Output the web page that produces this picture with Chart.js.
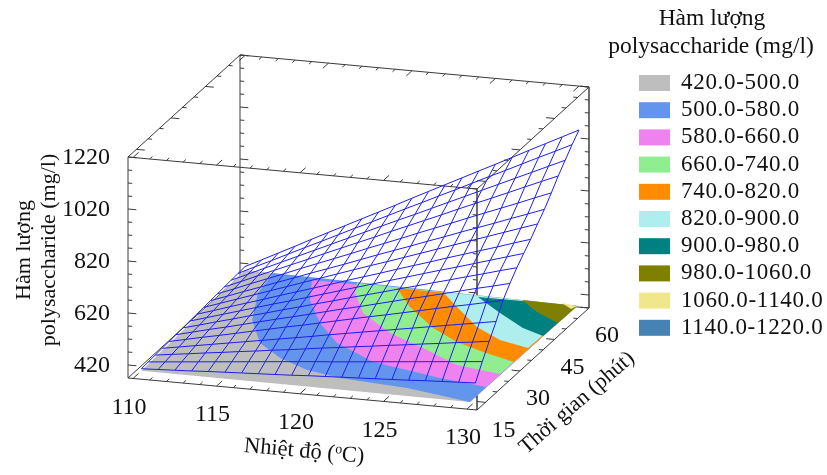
<!DOCTYPE html>
<html>
<head>
<meta charset="utf-8">
<style>
	html,body{margin:0;padding:0;background:#fff;}
	canvas{display:block;}
</style>
<script src="https://cdn.jsdelivr.net/npm/chart.js@4/dist/chart.umd.min.js"></script>
</head>
<body>
<canvas id="grafico" width="827" height="475"></canvas>
<script>
// assi del grafico
const tempLimits = [109.7, 130.6];
const timeLimits = [11.35, 60];
const zLimits = [370, 1220];

const tempTicks = [110,111,112,113,114,115,116,117,118,119,120,121,122,123,124,125,126,127,128,129,130];
const tempLabels = [110,115,120,125,130];
const timeTicks = [15,20,25,30,35,40,45,50,55,60];
const timeLabels = [15,30,45,60];
const zTicks = [420,470,520,570,620,670,720,770,820,870,920,970,1020,1070,1120,1170,1220];
const zLabels = [420,620,820,1020,1220];

// griglia della superficie: una riga per ogni tempo, una colonna per ogni temperatura
const gridTemp = [110,111,112,113,114,115,116,117,118,119,120,121,122,123,124,125,126,127,128,129,130];
const gridTime = [15,18,21,24,27,30,33,36,39,42,45,48,51,54,57,60];
const surface = [
	[378,381,384,387,391,394,397,400,403,406,410,413,416,419,422,425,428,432,435,438,441],
	[380,386,392,398,404,410,416,422,428,434,440,445,451,457,463,469,475,481,487,493,499],
	[382,391,399,408,416,425,433,442,450,459,468,476,485,493,502,510,519,527,536,544,553],
	[384,395,406,417,428,439,450,461,472,483,495,506,517,528,539,550,561,572,583,594,605],
	[386,400,414,427,441,455,469,483,496,510,524,538,552,565,579,593,607,621,634,648,662],
	[388,404,420,435,451,467,483,498,514,530,546,561,577,593,609,624,640,656,672,687,703],
	[390,407,425,442,460,477,495,512,530,547,565,582,599,617,634,652,669,687,704,722,739],
	[392,411,430,449,468,487,505,524,543,562,581,600,619,638,657,676,694,713,732,751,770],
	[394,414,435,455,475,496,516,536,556,577,597,617,638,658,678,699,719,739,759,780,800],
	[396,418,440,462,484,506,528,550,572,594,616,637,659,681,703,725,747,769,791,813,835],
	[398,421,445,468,492,515,539,562,585,609,633,656,679,703,726,750,773,796,820,843,867],
	[400,425,451,476,501,527,552,577,602,628,653,678,704,729,754,780,805,830,855,881,906],
	[402,429,457,484,511,538,566,593,620,647,675,702,729,756,784,811,838,865,893,920,947],
	[404,433,462,491,520,549,578,607,636,665,694,722,751,780,809,838,867,896,925,954,983],
	[406,437,467,498,529,559,590,621,651,682,713,743,774,804,835,866,896,927,958,988,1019],
	[408,440,472,504,537,569,601,633,665,697,730,762,794,826,858,890,922,955,987,1019,1051]
];

// bande di contorno sul fondo (temperatura, tempo)
const bandNames = ["420.0-500.0","500.0-580.0","580.0-660.0","660.0-740.0","740.0-820.0","820.0-900.0","900.0-980.0","980.0-1060.0","1060.0-1140.0","1140.0-1220.0"];
const bandColors = ["#bebebe","#6495ed","#ee82ee","#90ee90","#ff8c00","#afeeee","#008080","#808000","#f0e68c","#4682b4"];

const floorT = [110,129.74,129.83,126.48,123.9,121.7,118.96,116.48,113.86,111.32,109.62];
const floorM = [15,14.54,60.39,60.8,60.35,61.1,61.04,61.6,61.1,62.6,62.8];
const c500T = [111.32,111.69,112.99,114.79,116.78,118.96,121.23,125.48,129.74,129.83];
const c500M = [62.6,53.34,41.41,31.76,26.06,21.93,19.77,18.1,14.54,60.39];
const c580T = [113.86,114.94,116.86,118.98,120.95,122.07,124.4,126.68,129.72,129.83];
const c580M = [61.1,52.38,42.81,34.82,30.54,28.01,25.9,23.75,21.67,60.39];
const c660T = [116.48,116.97,118.61,121.27,123.96,126.82,129.7,129.83];
const c660M = [61.6,57.2,48.85,41.26,36.07,30.05,27.86,60.39];
const c740T = [118.96,120.8,123.31,125.45,127.47,129.74,129.83];
const c740M = [61.04,53.31,45.14,40.02,36.72,33.62,60.39];
const c820T = [121.7,123.36,125.64,127.67,129.67,129.83];
const c820M = [61.1,55.18,47.32,42.6,40.24,60.39];
const c900T = [123.9,126.06,128.2,129.77,129.83];
const c900M = [60.35,54.29,48.71,46.04,60.39];
const c980T = [126.48,128.01,129.81,129.83];
const c980M = [60.8,56.2,52.26,60.39];
const c1060T = [128.83,129.68,129.83];
const c1060M = [61.09,58.85,60.39];

const regions = [
	[floorT,floorM],[c500T,c500M],[c580T,c580M],[c660T,c660M],[c740T,c740M],
	[c820T,c820M],[c900T,c900M],[c980T,c980M],[c1060T,c1060M]
];

// proiezione obliqua della scatola sul piano della figura
const ORIG = [128,378];
const DIR_T = [349,32];
const DIR_M = [112,-102];
const DIR_Z = [0,-221];

function norm(v,lim){ return (v-lim[0])/(lim[1]-lim[0]); }

function proietta3(u,v,w){
	return {
		x: ORIG[0]+DIR_T[0]*u+DIR_M[0]*v+DIR_Z[0]*w,
		y: ORIG[1]+DIR_T[1]*u+DIR_M[1]*v+DIR_Z[1]*w
	};
}
function proietta(T,m,z){
	return proietta3(norm(T,tempLimits),norm(m,timeLimits),norm(z,zLimits));
}

function linea(points,color,width,order){
	return {
		data: points, showLine: true, borderColor: color, borderWidth: width,
		pointRadius: 0, fill: false, tension: 0, order: order, clip: false
	};
}

function creaDatasets(){
	const ds = [];
	// maglia della superficie
	surface.forEach((row,j)=>{
		ds.push(linea(row.map((z,i)=>proietta(gridTemp[i],gridTime[j],z)),"#1e1ef0",1,0));
	});
	gridTemp.forEach((T,i)=>{
		ds.push(linea(surface.map((row,j)=>proietta(T,gridTime[j],row[i])),"#1e1ef0",1,0));
	});
	// contorni
	regions.forEach((r,k)=>{
		ds.push({
			data: r[0].map((T,i)=>proietta(T,r[1][i],zLimits[0])),
			showLine: true, borderWidth: 0, borderColor: bandColors[k], backgroundColor: bandColors[k],
			pointRadius: 0, fill: "shape", tension: 0, order: 20-k, clip: false
		});
	});
	// scatola
	const edges = [
		[[0,0,0],[1,0,0]],[[1,0,0],[1,1,0]],[[0,0,0],[0,1,0]],[[0,1,0],[1,1,0]],
		[[0,0,1],[1,0,1]],[[1,0,1],[1,1,1]],[[0,0,1],[0,1,1]],[[0,1,1],[1,1,1]],
		[[0,0,0],[0,0,1]],[[0,1,0],[0,1,1]]
	];
	edges.forEach(e=>ds.push(linea(e.map(p=>proietta3(p[0],p[1],p[2])),"#3a3a3a",1,30)));
	ds.push(linea([proietta3(1,0,0),proietta3(1,0,1)],"#6e6e6e",2,30));
	ds.push(linea([proietta3(1,1,0),proietta3(1,1,1)],"#6e6e6e",2,30));
	// tacche
	const tacche = [];
	function tacca(u,v,w,du,dv){
		tacche.push(proietta3(u,v,w),proietta3(u+du,v+dv,w),{x:NaN,y:NaN});
	}
	tempTicks.forEach(T=>{
		const u = norm(T,tempLimits), k = tempLabels.includes(T) ? 2 : 1;
		tacca(u,0,0,0,0.025*k);
		tacca(u,0,1,0,0.025*k);
		tacca(u,1,1,0,-0.025*k);
	});
	timeTicks.forEach(m=>{
		const v = norm(m,timeLimits), k = timeLabels.includes(m) ? 2 : 1;
		tacca(1,v,0,-0.012*k,0);
		tacca(0,v,1,0.012*k,0);
		tacca(1,v,1,-0.012*k,0);
	});
	zTicks.forEach(z=>{
		const w = norm(z,zLimits), k = zLabels.includes(z) ? 2 : 1;
		tacca(0,0,w,0.012*k,0);
		tacca(0,1,w,0.012*k,0);
		tacca(1,0,w,-0.012*k,0);
		tacca(1,1,w,-0.012*k,0);
	});
	ds.push(linea(tacche,"#3a3a3a",1,29));
	return ds;
}

const FONT = '"Liberation Serif"';

const testi = {
	id: "testi",
	afterDraw(chart){
		const ctx = chart.ctx, sx = chart.scales.x, sy = chart.scales.y;
		const px = p=>({x:sx.getPixelForValue(p.x),y:sy.getPixelForValue(p.y)});
		ctx.save();
		ctx.fillStyle = "#111";
		ctx.textBaseline = "middle";

		// etichette degli assi
		ctx.font = "24px "+FONT;
		ctx.textAlign = "center";
		tempLabels.forEach(T=>{
			const p = px(proietta(T,timeLimits[0],zLimits[0]));
			ctx.fillText(String(T),p.x-4,p.y+29);
		});
		timeLabels.forEach(m=>{
			const p = px(proietta(tempLimits[1],m,zLimits[0]));
			ctx.fillText(String(m),p.x+18,p.y+28);
		});
		ctx.textAlign = "right";
		zLabels.forEach(z=>{
			const p = px(proietta(tempLimits[0],timeLimits[0],z));
			ctx.fillText(String(z),p.x-18,p.y+1);
		});

		// titoli degli assi
		ctx.font = "22px "+FONT;
		ctx.textAlign = "center";
		ruotato(ctx,"Hàm lượng",24,250,-Math.PI/2);
		ruotato(ctx,"polysaccharide (mg/l)",49,250,-Math.PI/2);
		ruotato(ctx,"Thời gian (phút)",577,403,-41*Math.PI/180);

		ctx.save();
		ctx.font = "22.5px "+FONT;
		ctx.translate(244,446);
		ctx.rotate(5.2*Math.PI/180);
		ctx.textAlign = "left";
		const a = "Nhiệt độ (", b = "o", c = "C)";
		ctx.fillText(a,0,0);
		let w = ctx.measureText(a).width;
		ctx.font = "14px "+FONT;
		ctx.fillText(b,w,-5);
		w += ctx.measureText(b).width;
		ctx.font = "22.5px "+FONT;
		ctx.fillText(c,w,0);
		ctx.restore();

		// legenda
		ctx.font = "23.5px "+FONT;
		ctx.textAlign = "center";
		ctx.fillText("Hàm lượng",712,19);
		ctx.fillText("polysaccharide (mg/l)",711,47);
		ctx.textAlign = "left";
		ctx.font = "23px "+FONT;
		ctx.letterSpacing = "0.7px";
		bandNames.forEach((n,i)=>{
			const y = 83+27.2*i;
			ctx.fillStyle = bandColors[i];
			ctx.fillRect(639,y-8,31,16);
			ctx.fillStyle = "#111";
			ctx.fillText(n,681,y);
		});
		ctx.letterSpacing = "0px";
		ctx.restore();
	}
};

function ruotato(ctx,testo,x,y,ang){
	ctx.save();
	ctx.translate(x,y);
	ctx.rotate(ang);
	ctx.fillText(testo,0,0);
	ctx.restore();
}

new Chart(document.getElementById("grafico"),{
	type: "scatter",
	data: { datasets: creaDatasets() },
	options: {
		responsive: false,
		animation: false,
		layout: { padding: 0 },
		scales: {
			x: { type: "linear", display: false, min: 0, max: 827 },
			y: { type: "linear", display: false, min: 0, max: 475, reverse: true }
		},
		plugins: {
			legend: { display: false },
			tooltip: { enabled: false }
		}
	},
	plugins: [testi]
});
</script>
</body>
</html>
